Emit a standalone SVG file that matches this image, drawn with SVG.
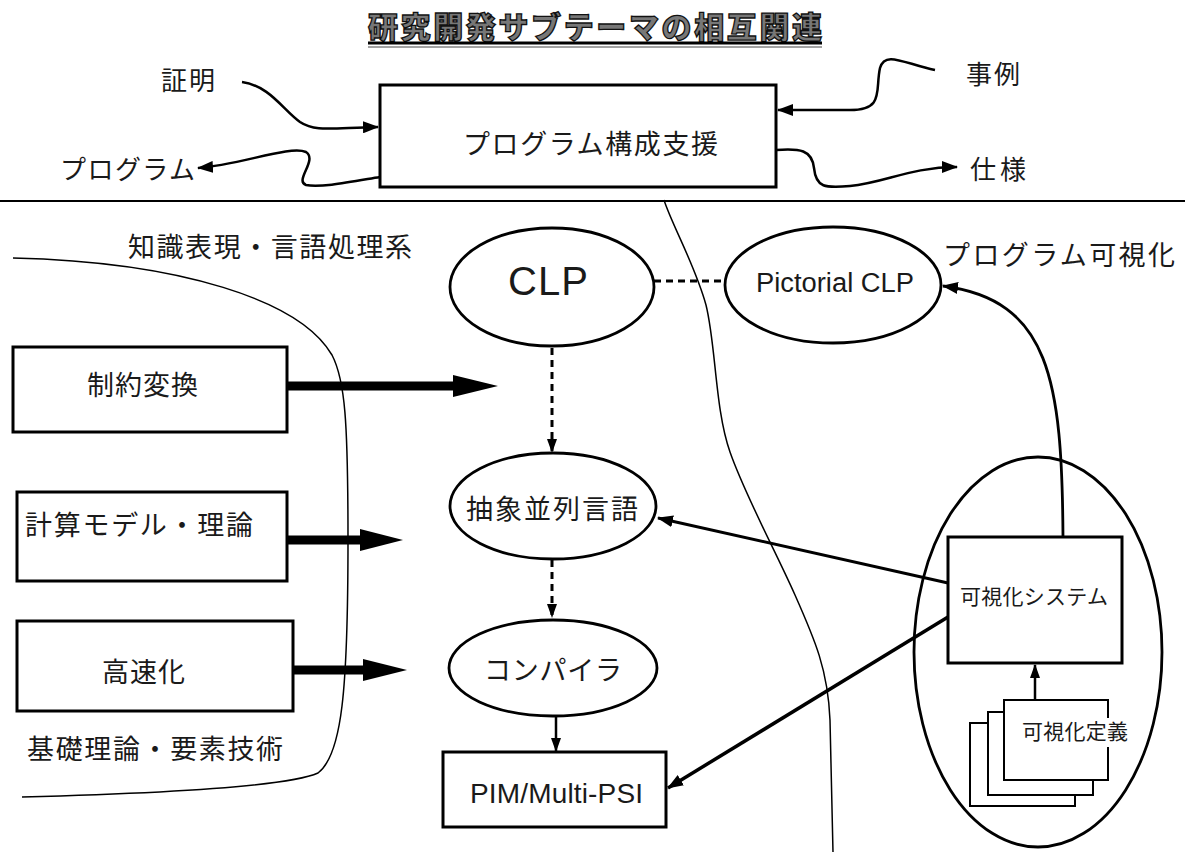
<svg xmlns="http://www.w3.org/2000/svg" width="1185" height="852" viewBox="0 0 1185 852">
<style>
.jp{font-family:"Noto Sans CJK JP","Noto Sans",sans-serif;fill:#1a1a1a;dominant-baseline:central}
.en{font-family:"Liberation Sans",Arial,sans-serif;fill:#1a1a1a}
.box{fill:#fff;stroke:#000;stroke-width:3}
.ell{fill:#fff;stroke:#000;stroke-width:2.8}
.thin{fill:none;stroke:#000;stroke-width:1.5}
.conn{fill:none;stroke:#000;stroke-width:2.5}
.dash{fill:none;stroke:#000;stroke-width:3;stroke-dasharray:7 5}
.thick{fill:none;stroke:#000;stroke-width:9}
.page{fill:#fff;stroke:#000;stroke-width:2}
</style>
<defs>
<marker id="ah" markerUnits="userSpaceOnUse" markerWidth="16" markerHeight="12" refX="15" refY="6" orient="auto">
<path d="M0,0 L16,6 L0,12 Z" fill="#000"/>
</marker>
<marker id="ahs" markerUnits="userSpaceOnUse" markerWidth="14" markerHeight="10" refX="13" refY="5" orient="auto">
<path d="M0,0 L14,5 L0,10 Z" fill="#000"/>
</marker>
</defs>
<rect width="1185" height="852" fill="#fff"/>

<g id="title">
<text x="368" y="25" class="jp" font-size="30" font-weight="900" textLength="454" lengthAdjust="spacing" style="fill:#777;stroke:#111;stroke-width:1.3">研究開発サブテーマの相互関連</text>
<line x1="368" y1="43" x2="822" y2="43" stroke="#000" stroke-width="3"/>
<line x1="368" y1="47" x2="822" y2="47" stroke="#444" stroke-width="1"/>
</g>

<g id="separators">
<line x1="0" y1="201" x2="1185" y2="201" stroke="#000" stroke-width="2"/>
<path class="thin" d="M664,200 C672,225 695,265 706,305 C716,345 715,410 730,452 C745,495 775,550 795,595 C815,640 828,670 830,720 L833,852"/>
<path class="thin" d="M13,258 C180,262 300,300 332,355 C345,380 348,420 348,540 C348,690 342,755 318,773 C280,790 100,795 22,797"/>
</g>

<g id="labels">
<text x="161" y="78" class="jp" font-size="26" textLength="54">証明</text>
<text x="60" y="167" class="jp" font-size="26" textLength="135">プログラム</text>
<text x="966" y="72" class="jp" font-size="26" textLength="54">事例</text>
<text x="970" y="167" class="jp" font-size="26" textLength="56">仕様</text>
<text x="128" y="245" class="jp" font-size="27" textLength="284">知識表現・言語処理系</text>
<text x="943" y="253" class="jp" font-size="27" textLength="232">プログラム可視化</text>
<text x="27" y="747" class="jp" font-size="27" textLength="256">基礎理論・要素技術</text>
</g>

<g id="n-support">
<rect class="box" x="380" y="85" width="396" height="102"/>
<text x="463" y="142" class="jp" font-size="27" textLength="255">プログラム構成支援</text>
</g>

<g id="n-seiyaku">
<rect class="box" x="13" y="347" width="274" height="85"/>
<text x="87" y="383" class="jp" font-size="27" textLength="111">制約変換</text>
</g>
<g id="n-keisan">
<rect class="box" x="17" y="492" width="270" height="89"/>
<text x="25" y="523" class="jp" font-size="27" textLength="228">計算モデル・理論</text>
</g>
<g id="n-kousoku">
<rect class="box" x="17" y="621" width="276" height="90"/>
<text x="102" y="670" class="jp" font-size="27" textLength="83">高速化</text>
</g>

<g id="n-clp">
<ellipse class="ell" cx="552" cy="287" rx="102" ry="59"/>
<text x="508" y="295" class="en" font-size="40" textLength="80">CLP</text>
</g>
<g id="n-pclp">
<ellipse class="ell" cx="833" cy="285" rx="108" ry="58"/>
<text x="756" y="292" class="en" font-size="27" textLength="158" lengthAdjust="spacingAndGlyphs">Pictorial CLP</text>
</g>
<g id="n-abstract">
<ellipse class="ell" cx="553" cy="506" rx="103" ry="53"/>
<text x="466" y="507" class="jp" font-size="27" textLength="172">抽象並列言語</text>
</g>
<g id="n-compiler">
<ellipse class="ell" cx="553" cy="668" rx="104" ry="48"/>
<text x="484" y="668" class="jp" font-size="27" textLength="138">コンパイラ</text>
</g>
<g id="n-pim">
<rect class="box" x="443" y="752" width="223" height="75"/>
<text x="470" y="803" class="en" font-size="28" textLength="173">PIM/Multi-PSI</text>
</g>

<g id="n-visgroup">
<ellipse cx="1038" cy="652" rx="124" ry="195" fill="none" stroke="#000" stroke-width="2.8"/>
</g>
<g id="n-vissys">
<rect class="box" x="948" y="537" width="174" height="126"/>
<text x="960" y="595" class="jp" font-size="21" textLength="148">可視化システム</text>
</g>
<g id="n-visdef">
<rect class="page" x="970" y="723" width="105" height="83"/>
<rect class="page" x="988" y="712" width="105" height="83"/>
<rect x="1004" y="700" width="104" height="80" fill="#fff"/>
<path d="M1108,718 L1108,700 L1004,700 L1004,780 L1108,780 L1108,747" fill="none" stroke="#000" stroke-width="2"/>
<text x="1022" y="730" class="jp" font-size="21" textLength="106">可視化定義</text>
</g>

<g id="connectors">
<path class="conn" d="M242,82 C270,86 283,110 300,122 C315,132 330,128 378,127" marker-end="url(#ah)"/>
<path class="conn" d="M380,177 C350,182 320,188 306,185 C294,181 318,160 306,152 C290,145 240,165 198,168" marker-end="url(#ah)"/>
<path class="conn" d="M935,70 C905,64 885,50 880,68 C875,90 885,110 850,110 L778,110" marker-end="url(#ah)"/>
<path class="conn" d="M776,150 C800,148 812,150 814,168 C816,188 825,188 850,186 C885,183 910,167 957,167" marker-end="url(#ah)"/>
<line x1="654" y1="281" x2="725" y2="281" stroke="#000" stroke-width="3" stroke-dasharray="7 5"/>
<line class="dash" x1="552" y1="348" x2="552" y2="452" marker-end="url(#ahs)"/>
<line class="dash" x1="552" y1="560" x2="552" y2="617" marker-end="url(#ahs)"/>
<line class="conn" x1="556" y1="716" x2="556" y2="751" marker-end="url(#ahs)"/>
<line class="thick" x1="287" y1="386" x2="458" y2="386"/>
<path d="M453,375 L498,386 L453,397 Z"/>
<line class="thick" x1="287" y1="540" x2="365" y2="540"/>
<path d="M360,529 L403,540 L360,551 Z"/>
<line class="thick" x1="293" y1="670" x2="368" y2="670"/>
<path d="M363,659 L407,670 L363,681 Z"/>
<line class="conn" x1="948" y1="583" x2="658" y2="518" marker-end="url(#ah)" style="stroke-width:3"/>
<line class="conn" x1="948" y1="617" x2="668" y2="788" marker-end="url(#ah)" style="stroke-width:3.5"/>
<path class="conn" d="M1063,537 C1062,380 1050,300 943,286" marker-end="url(#ah)" style="stroke-width:2.8"/>
<line class="conn" x1="1035" y1="700" x2="1035" y2="665" marker-end="url(#ahs)"/>
</g>
</svg>
